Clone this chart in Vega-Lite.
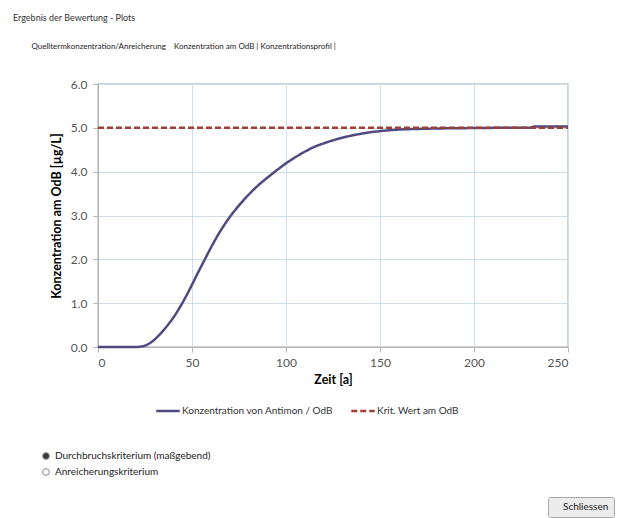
{
  "$schema": "https://vega.github.io/schema/vega-lite/v6.json",
  "width": 470,
  "height": 263,
  "autosize": {"type": "none"},
  "padding": {"left": 98, "top": 84, "right": 59, "bottom": 171},
  "background": "#ffffff",
  "title": {
    "text": "Ergebnis der Bewertung - Plots",
    "subtitle": "\u200b\u00a0\u00a0\u00a0\u00a0\u00a0\u00a0\u00a0\u00a0\u00a0Quelltermkonzentration/Anreicherung\u00a0\u00a0\u00a0\u00a0Konzentration am OdB | Konzentrationsprofil |",
    "anchor": "start",
    "frame": "group",
    "dx": -85,
    "offset": 27,
    "font": "Lato",
    "fontSize": 9,
    "fontWeight": "normal",
    "color": "#333333",
    "subtitleFont": "Lato",
    "subtitleFontSize": 8,
    "subtitleColor": "#222222",
    "subtitlePadding": 20
  },
  "config": {
    "view": {"fill": "#dbebf3", "stroke": "#c2c2c2", "strokeWidth": 1.5},
    "font": "Lato"
  },
  "layer": [
    {
      "data": {
        "values": [
          {"t": 0, "c": 0, "series": "Konzentration von Antimon / OdB"},
          {"t": 10, "c": 0, "series": "Konzentration von Antimon / OdB"},
          {"t": 20, "c": 0, "series": "Konzentration von Antimon / OdB"},
          {"t": 23, "c": 0.01, "series": "Konzentration von Antimon / OdB"},
          {"t": 26, "c": 0.05, "series": "Konzentration von Antimon / OdB"},
          {"t": 29, "c": 0.13, "series": "Konzentration von Antimon / OdB"},
          {"t": 32, "c": 0.25, "series": "Konzentration von Antimon / OdB"},
          {"t": 35, "c": 0.39, "series": "Konzentration von Antimon / OdB"},
          {"t": 38, "c": 0.55, "series": "Konzentration von Antimon / OdB"},
          {"t": 41, "c": 0.73, "series": "Konzentration von Antimon / OdB"},
          {"t": 44, "c": 0.94, "series": "Konzentration von Antimon / OdB"},
          {"t": 47, "c": 1.17, "series": "Konzentration von Antimon / OdB"},
          {"t": 50, "c": 1.42, "series": "Konzentration von Antimon / OdB"},
          {"t": 53, "c": 1.68, "series": "Konzentration von Antimon / OdB"},
          {"t": 56, "c": 1.93, "series": "Konzentration von Antimon / OdB"},
          {"t": 60, "c": 2.26, "series": "Konzentration von Antimon / OdB"},
          {"t": 65, "c": 2.64, "series": "Konzentration von Antimon / OdB"},
          {"t": 70, "c": 2.96, "series": "Konzentration von Antimon / OdB"},
          {"t": 75, "c": 3.23, "series": "Konzentration von Antimon / OdB"},
          {"t": 80, "c": 3.47, "series": "Konzentration von Antimon / OdB"},
          {"t": 85, "c": 3.68, "series": "Konzentration von Antimon / OdB"},
          {"t": 90, "c": 3.86, "series": "Konzentration von Antimon / OdB"},
          {"t": 95, "c": 4.03, "series": "Konzentration von Antimon / OdB"},
          {"t": 100, "c": 4.19, "series": "Konzentration von Antimon / OdB"},
          {"t": 105, "c": 4.33, "series": "Konzentration von Antimon / OdB"},
          {"t": 110, "c": 4.455, "series": "Konzentration von Antimon / OdB"},
          {"t": 115, "c": 4.565, "series": "Konzentration von Antimon / OdB"},
          {"t": 120, "c": 4.645, "series": "Konzentration von Antimon / OdB"},
          {"t": 125, "c": 4.715, "series": "Konzentration von Antimon / OdB"},
          {"t": 130, "c": 4.775, "series": "Konzentration von Antimon / OdB"},
          {"t": 135, "c": 4.825, "series": "Konzentration von Antimon / OdB"},
          {"t": 140, "c": 4.865, "series": "Konzentration von Antimon / OdB"},
          {"t": 145, "c": 4.9, "series": "Konzentration von Antimon / OdB"},
          {"t": 150, "c": 4.925, "series": "Konzentration von Antimon / OdB"},
          {"t": 160, "c": 4.96, "series": "Konzentration von Antimon / OdB"},
          {"t": 170, "c": 4.975, "series": "Konzentration von Antimon / OdB"},
          {"t": 180, "c": 4.985, "series": "Konzentration von Antimon / OdB"},
          {"t": 190, "c": 4.99, "series": "Konzentration von Antimon / OdB"},
          {"t": 200, "c": 4.995, "series": "Konzentration von Antimon / OdB"},
          {"t": 215, "c": 5.0, "series": "Konzentration von Antimon / OdB"},
          {"t": 230, "c": 5.0, "series": "Konzentration von Antimon / OdB"},
          {"t": 232, "c": 5.03, "series": "Konzentration von Antimon / OdB"},
          {"t": 250, "c": 5.03, "series": "Konzentration von Antimon / OdB"},
          {"t": 0, "c": 5.0, "series": "Krit. Wert am OdB"},
          {"t": 250, "c": 5.0, "series": "Krit. Wert am OdB"}
        ]
      },
      "mark": {"type": "line", "strokeWidth": 2.5, "interpolate": "monotone"},
      "encoding": {
        "x": {
          "field": "t",
          "type": "quantitative",
          "scale": {"domain": [0, 250], "nice": false},
          "axis": {
            "values": [0, 50, 100, 150, 200, 250],
            "title": "Zeit [a]",
            "titleFont": "Lato",
            "titleFontSize": 12.5,
            "titleFontWeight": "bold",
            "titleColor": "#000000",
            "titlePadding": 5,
            "labelFont": "Lato",
            "labelFontSize": 12,
            "labelColor": "#555555",
            "labelPadding": 5,
            "domainColor": "#b5b5b5",
            "tickColor": "#b5b5b5",
            "tickSize": 5,
            "gridColor": "#cfdee8",
            "gridWidth": 1
          }
        },
        "y": {
          "field": "c",
          "type": "quantitative",
          "scale": {"domain": [0, 6], "nice": false},
          "axis": {
            "values": [0, 1, 2, 3, 4, 5, 6],
            "format": ".1f",
            "title": "Konzentration am OdB  [µg/L]",
            "titleFont": "Lato",
            "titleFontSize": 12.5,
            "titleFontWeight": "bold",
            "titleColor": "#000000",
            "titlePadding": 7,
            "labelFont": "Lato",
            "labelFontSize": 12,
            "labelColor": "#555555",
            "labelPadding": 6,
            "domainColor": "#b5b5b5",
            "tickColor": "#b5b5b5",
            "tickSize": 5,
            "gridColor": "#cfdee8",
            "gridWidth": 1
          }
        },
        "color": {
          "field": "series",
          "type": "nominal",
          "scale": {
            "domain": ["Konzentration von Antimon / OdB", "Krit. Wert am OdB"],
            "range": ["#4f4a80", "#9e3f35"]
          },
          "legend": {
            "orient": "none",
            "legendX": 57,
            "legendY": 314,
            "direction": "horizontal",
            "title": null,
            "padding": 0,
            "symbolType": "stroke",
            "symbolStrokeWidth": 2.5,
            "symbolSize": 550,
            "labelFont": "Lato",
            "labelFontSize": 10,
            "labelColor": "#333333",
            "labelOffset": 1,
            "columnPadding": 12
          }
        },
        "strokeDash": {
          "field": "series",
          "type": "nominal",
          "scale": {
            "domain": ["Konzentration von Antimon / OdB", "Krit. Wert am OdB"],
            "range": [[1, 0], [6, 3]]
          },
          "legend": {
            "orient": "none",
            "legendX": 57,
            "legendY": 314,
            "direction": "horizontal",
            "title": null,
            "padding": 0,
            "symbolType": "stroke",
            "symbolStrokeWidth": 2.5,
            "symbolSize": 550,
            "labelFont": "Lato",
            "labelFontSize": 10,
            "labelColor": "#333333",
            "labelOffset": 1,
            "columnPadding": 12
          }
        }
      }
    },
    {
      "data": {
        "values": [
          {"option": "Durchbruchskriterium (maßgebend)"},
          {"option": "Anreicherungskriterium"}
        ]
      },
      "mark": {"type": "point", "shape": "circle", "filled": true, "opacity": 0, "stroke": "#8a8a8a", "strokeWidth": 1},
      "encoding": {
        "fill": {
          "field": "option",
          "type": "nominal",
          "scale": {
            "domain": ["Durchbruchskriterium (maßgebend)", "Anreicherungskriterium"],
            "range": ["#3a3a3a", "#ffffff"]
          },
          "legend": {
            "orient": "none",
            "legendX": -57,
            "legendY": 367,
            "direction": "vertical",
            "title": null,
            "padding": 0,
            "symbolType": "circle",
            "symbolSize": 45,
            "symbolOpacity": 1,
            "symbolStrokeColor": "#8a8a8a",
            "symbolStrokeWidth": 1,
            "labelFont": "Lato",
            "labelFontSize": 10,
            "labelColor": "#222222",
            "labelOffset": 4,
            "rowPadding": 4,
            "encode": {"symbols": {"update": {"opacity": {"value": 1}, "stroke": {"value": "#8a8a8a"}}}}
          }
        }
      }
    },
    {
      "data": {"values": [{"button": "Schliessen"}]},
      "mark": {"type": "point", "shape": "square", "filled": true, "opacity": 0},
      "encoding": {
        "shape": {
          "field": "button",
          "type": "nominal",
          "scale": {"domain": ["Schliessen"], "range": ["square"]},
          "legend": {
            "orient": "none",
            "legendX": 450,
            "legendY": 413,
            "title": null,
            "padding": 5,
            "strokeColor": "#a8a8a8",
            "fillColor": "#ececec",
            "cornerRadius": 2,
            "symbolSize": 0,
            "symbolOpacity": 0,
            "symbolStrokeWidth": 0,
            "labelOffset": 0,
            "labelFont": "Lato",
            "labelFontSize": 10,
            "labelColor": "#222222",
            "encode": {"symbols": {"update": {"opacity": {"value": 0}}}}
          }
        }
      }
    }
  ]
}
